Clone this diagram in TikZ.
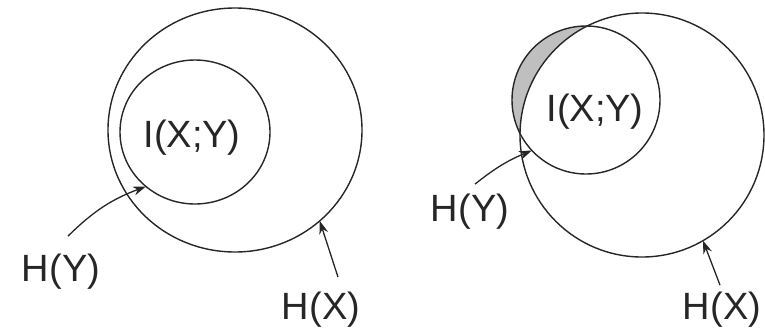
\documentclass[tikz,border=0pt]{standalone}
\usepackage{fontspec}
\setmainfont{Liberation Sans}
\usetikzlibrary{arrows.meta,positioning,calc,shapes.geometric}

\begin{document}
\begin{tikzpicture}[
  x=1pt,y=-1pt,
  font=\fontsize{38}{42}\selectfont,
  set/.style={draw=black!85,ellipse,line width=1.4pt,inner sep=0pt,outer sep=0pt},
  label/.style={inner sep=0pt,text=black!85},
  line/.style={-{Stealth[length=13pt,width=9pt]},line width=1.3pt,draw=black!85}]
\useasboundingbox (0,0) rectangle (765,330);
% left: H(Y) inside H(X)
\node[set,minimum width=254pt,minimum height=244pt] (outL) at (235,130) {};
\node[set,minimum width=150pt,minimum height=144pt] (inL) at (195,132) {};
\node[label] (ixyL) at (192,138) {I(X;Y)};
\node[label] (hyL) at (61,272) {H(Y)};
\node[label] (hxL) at (321,310) {H(X)};
% right: overlapping sets
\fill[black!25] (586,100) circle (74);
\fill[white] (642,135) circle (122);
\node[set,minimum size=244pt] (outR) at (642,135) {};
\node[set,minimum size=148pt] (inR) at (586,100) {};
\node[label] (ixyR) at (595,112) {I(X;Y)};
\node[label] (hyR) at (470,212) {H(Y)};
\node[label] (hxR) at (722,310) {H(X)};
\draw[line] ([xshift=7pt,yshift=18pt]hyL.north) to[bend left=12] (inL.228);
\draw[line] ([xshift=17pt,yshift=15pt]hxL.north) -- (outL.313);
\draw[line] ([xshift=5pt,yshift=10pt]hyR.north) to[bend left=8] (inR.223);
\draw[line] ([xshift=-2pt,yshift=7pt]hxR.north) -- (outR.300);
\end{tikzpicture}
\end{document}
